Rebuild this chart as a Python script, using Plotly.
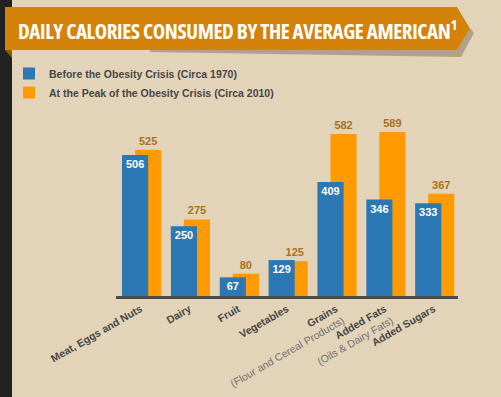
import plotly.graph_objects as go

# ---- data ----
categories = ["Meat, Eggs and Nuts", "Dairy", "Fruit", "Vegetables", "Grains", "Added Fats", "Added Sugars"]
subtitles = ["", "", "", "", "(Flour and Cereal Products)", "(Oils & Dairy Fats)", ""]
before_1970 = [506, 250, 67, 129, 409, 346, 333]
peak_2010 = [525, 275, 80, 125, 582, 589, 367]
series_names = ["Before the Obesity Crisis (Circa 1970)", "At the Peak of the Obesity Crisis (Circa 2010)"]
title_text = "DAILY CALORIES CONSUMED BY THE AVERAGE AMERICAN"

# ---- styling ----
W, H = 501, 397
L, R, T, B = 116, 458, 118, 296
BG = "#E2D3B9"
BLUE = "#2B78B4"
ORANGE = "#FF9A00"
BANNER = "#D4820A"
TXT = "#474747"

def px(x):
    return (x - L) / (R - L)

def py(y):
    return (B - y) / (B - T)

xs = list(range(len(categories)))
ticktext = []
for c, s in zip(categories, subtitles):
    t = "<b>%s</b>" % c
    if s:
        t += "<br><span style='color:#707070'>%s</span>" % s
    ticktext.append(t)

fig = go.Figure()
fig.add_trace(go.Bar(
    x=xs, y=peak_2010, name=series_names[1], marker=dict(color=ORANGE, line=dict(width=0)),
    offset=-0.11, width=0.535, text=[str(v) for v in peak_2010], textposition="outside",
    textfont=dict(family="Liberation Sans", size=11, color="#A8711F", weight="bold"),
    constraintext="none", cliponaxis=False, legendrank=2, hoverinfo="skip",
))
fig.add_trace(go.Bar(
    x=xs, y=before_1970, name=series_names[0], marker=dict(color=BLUE, line=dict(width=0)),
    offset=-0.377, width=0.535, text=[str(v) for v in before_1970], textposition="inside",
    insidetextanchor="end",
    textfont=dict(family="Liberation Sans", size=11, color="white", weight="bold"),
    constraintext="none", legendrank=1, hoverinfo="skip",
))

shapes = [
    dict(type="rect", xref="paper", yref="paper", x0=px(0), x1=px(12), y0=py(H), y1=py(0),
         fillcolor="#222222", line=dict(width=0), layer="below"),
    dict(type="path", xref="paper", yref="paper",
         path="M%f,%f L%f,%f L%f,%f L%f,%f L%f,%f L%f,%f Z" % (
             px(150), py(50), px(457), py(50), px(470), py(28), px(474), py(33), px(461), py(57), px(150), py(52)),
         fillcolor="rgba(90,70,50,0.35)", line=dict(width=0), layer="below"),
    dict(type="path", xref="paper", yref="paper",
         path="M%f,%f L%f,%f L%f,%f Z" % (px(5), py(50), px(12), py(50), px(12), py(58)),
         fillcolor="#8F5706", line=dict(width=0), layer="below"),
    dict(type="path", xref="paper", yref="paper",
         path="M%f,%f L%f,%f L%f,%f L%f,%f L%f,%f Z" % (
             px(5), py(7), px(457), py(7), px(470), py(28.5), px(457), py(50), px(5), py(50)),
         fillcolor=BANNER, line=dict(width=0), layer="below"),
]

annotations = [
    dict(xref="paper", yref="paper", x=px(16), y=py(29.5), xanchor="left", yanchor="middle",
         text="<span style='font-stretch:75%;letter-spacing:-0.4px'>" + title_text + "<sup>1</sup></span>",
         showarrow=False,
         font=dict(family="Open Sans", size=21, color="white", weight="bold")),
]

fig.update_layout(
    width=W, height=H,
    margin=dict(l=L, r=W - R, t=T, b=H - B, pad=0, autoexpand=False),
    paper_bgcolor=BG, plot_bgcolor=BG,
    barmode="overlay",
    showlegend=True,
    legend=dict(x=px(9), y=py(59), xanchor="left", yanchor="top", bgcolor="rgba(0,0,0,0)",
                font=dict(family="Liberation Sans", size=10.5, color=TXT, weight="bold"),
                traceorder="normal", tracegroupgap=0, itemwidth=30),
    xaxis=dict(range=[-0.5, 6.5], tickmode="array", tickvals=xs, ticktext=ticktext,
               tickangle=-30, showgrid=False, zeroline=False, showline=True, automargin=False,
               linecolor="#4a4a4a", linewidth=3, ticks="",
               tickfont=dict(family="Liberation Sans", size=10.5, color=TXT)),
    yaxis=dict(range=[0, 639], visible=False, showgrid=False, zeroline=False, automargin=False),
    shapes=shapes,
    annotations=annotations,
    font=dict(family="Liberation Sans"),
)

fig.write_html("out.html", config={"displayModeBar": False},
               post_script="document.body.style.margin='0';")
